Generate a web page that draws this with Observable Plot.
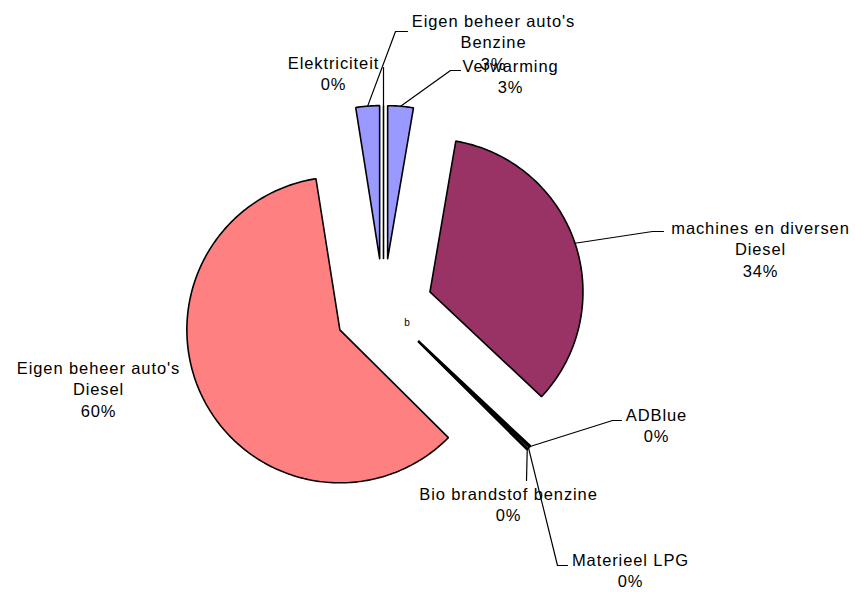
<!DOCTYPE html>
<html><head><meta charset="utf-8">
<script src="https://cdn.jsdelivr.net/npm/d3@7"></script>
<script src="https://cdn.jsdelivr.net/npm/@observablehq/plot@0.6"></script>
<style>body{margin:0;background:#fff}</style>
</head><body><div id="chart"></div>
<script>
// Slice data, clockwise from 12 o'clock
const categories = ["Verwarming", "machines en diversen\nDiesel", "ADBlue", "Materieel LPG", "Bio brandstof benzine", "Eigen beheer auto's\nDiesel", "Eigen beheer auto's\nBenzine", "Elektriciteit"];
const values = [2.7, 34.3, 0.15, 0.2, 0.1, 60.05, 2.5, 0];
const colors = ["#9999FF", "#993366", "#FFFFCC", "#CCFFFF", "#660066", "#FF8080", "#9999FF", "#0066CC"];

// Label layout (pixel positions of label block centres) and leader elbows
const labelPos = [[510, 75], [760, 248], [656, 424], [630, 569], [508, 503], [98, 388], [493, 41], [333, 72]];
const leaderPts = [[[450, 70], [460, 70]], [[652, 231], [663, 231]], [[612, 420], [621, 420]], [[557, 565], [567, 565]], [[526, 480]], null, [[395, 31], [407, 31]], [[383, 67]]];

const W = 855, H = 592, CX = 383, CY = 307, R = 153, EXPLODE = 49;
const total = d3.sum(values);
const rad = a => a * Math.PI / 180;

const polys = [], leaders = [], labels = [];
let acc = 0;
categories.forEach((name, i) => {
  const a0 = acc / total * 360, a1 = (acc + values[i]) / total * 360;
  acc += values[i];
  const mid = (a0 + a1) / 2;
  const ox = EXPLODE * Math.sin(rad(mid)), oy = -EXPLODE * Math.cos(rad(mid));
  polys.push({name, x: ox, y: oy, color: colors[i]});
  const n = Math.max(1, Math.ceil((a1 - a0) / 1));
  for (let k = 0; k <= n; k++) {
    const a = a0 + (a1 - a0) * k / n;
    polys.push({name, x: ox + R * Math.sin(rad(a)), y: oy - R * Math.cos(rad(a)), color: colors[i]});
  }
  polys.push({name, x: ox, y: oy, color: colors[i]});
  if (leaderPts[i]) {
    leaders.push({name, x: ox + R * Math.sin(rad(mid)), y: oy - R * Math.cos(rad(mid))});
    leaderPts[i].forEach(([px, py]) => leaders.push({name, x: px - CX, y: py - CY}));
  }
  labels.push({x: labelPos[i][0] - CX, y: labelPos[i][1] - CY, text: name + "\n" + Math.round(values[i]) + "%"});
});

const chart = Plot.plot({
  width: W, height: H,
  margin: 0,
  x: {domain: [-CX, W - CX], range: [0, W], axis: null},
  y: {domain: [-CY, H - CY], range: [0, H], axis: null},
  style: {fontFamily: "'Liberation Sans', Arial, sans-serif", background: "#fff", letterSpacing: "0.9px"},
  marks: [
    Plot.line(polys, {x: "x", y: "y", z: "name", fill: "color", stroke: "#000", strokeWidth: 1.6, strokeLinejoin: "miter", curve: "linear"}),
    Plot.line(leaders, {x: "x", y: "y", z: "name", stroke: "#000", strokeWidth: 1.2}),
    Plot.text(labels, {x: "x", y: "y", text: "text", fontSize: 16.5, lineHeight: 1.3, fill: "#000", textAnchor: "middle", lineAnchor: "middle"}),
    Plot.text(["b"], {x: 407 - CX, y: 322 - CY, text: d => d, fontSize: 10, fill: "#000"})
  ]
});
document.getElementById("chart").appendChild(chart);
</script>
</body></html>
